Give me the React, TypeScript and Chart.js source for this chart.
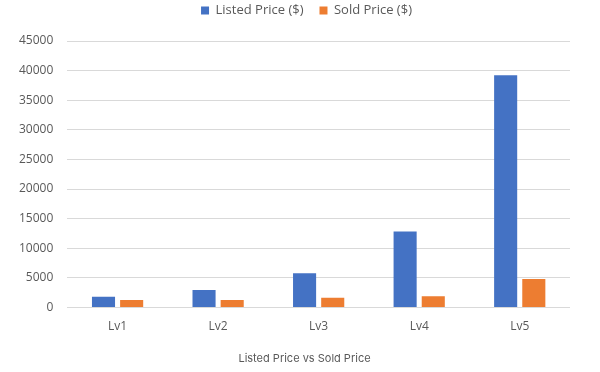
import React, { useEffect, useRef } from "react";
import { Chart, registerables } from "chart.js";

Chart.register(...registerables);

const categories = ["Lv1", "Lv2", "Lv3", "Lv4", "Lv5"];
const listedPrice = [1800, 2950, 5750, 12800, 39200];
const soldPrice = [1250, 1250, 1650, 1900, 4800];
const yTicksMax = 45000;
const yTickStep = 5000;
const chartTitle = "Listed Price vs Sold Price";

const layoutTweaks = {
  id: "layoutTweaks",
  beforeInit(chart: any) {
    const orig = chart.legend.fit;
    chart.legend.fit = function () {
      orig.bind(chart.legend)();
      this.height += 14;
    };
  },
  afterLayout(chart: any) {
    const lg = chart.legend;
    if (lg) {
      lg.left += 19;
      lg.right += 19;
    }
    const tb = chart.titleBlock;
    if (tb) {
      tb.left += 17;
      tb.right += 17;
    }
  },
};

export default function App() {
  const ref = useRef<HTMLCanvasElement | null>(null);
  useEffect(() => {
    document.body.style.margin = "0";
    if (!ref.current) return;
    const chart = new Chart(ref.current, {
      type: "bar",
      data: {
        labels: categories,
        datasets: [
          {
            label: "Listed Price ($)",
            data: listedPrice,
            backgroundColor: "#4472C4",
            categoryPercentage: 0.56,
            barPercentage: 0.82,
          },
          {
            label: "Sold Price ($)",
            data: soldPrice,
            backgroundColor: "#ED7D31",
            categoryPercentage: 0.56,
            barPercentage: 0.82,
          },
        ],
      },
      plugins: [layoutTweaks],
      options: {
        animation: false,
        responsive: false,
        maintainAspectRatio: false,
        layout: { padding: { left: 5, right: 30, top: -12, bottom: 7 } },
        plugins: {
          legend: {
            position: "top",
            labels: {
              boxWidth: 8,
              boxHeight: 8,
              color: "#595959",
              font: { family: "Open Sans", size: 13 },
              padding: 16,
            },
          },
          title: {
            display: true,
            position: "bottom",
            text: chartTitle,
            color: "#595959",
            font: { family: "Inter", size: 11, weight: "normal" },
            padding: { top: 14, bottom: 0 },
          },
          tooltip: { enabled: false },
        },
        scales: {
          x: {
            grid: { display: false },
            border: { display: false },
            ticks: { color: "#595959", font: { family: "Open Sans", size: 12 }, padding: 4 },
          },
          y: {
            min: 0,
            max: yTicksMax,
            ticks: {
              stepSize: yTickStep,
              color: "#595959",
              font: { family: "Open Sans", size: 12 },
              padding: 14,
              callback: (v: any) => String(v),
            },
            grid: { color: "#D9D9D9", drawTicks: false },
            border: { display: false },
          },
        },
      },
    });
    return () => chart.destroy();
  }, []);
  return (
    <div style={{ width: 600, height: 372, background: "#fff" }}>
      <canvas ref={ref} width={600} height={372} />
    </div>
  );
}
